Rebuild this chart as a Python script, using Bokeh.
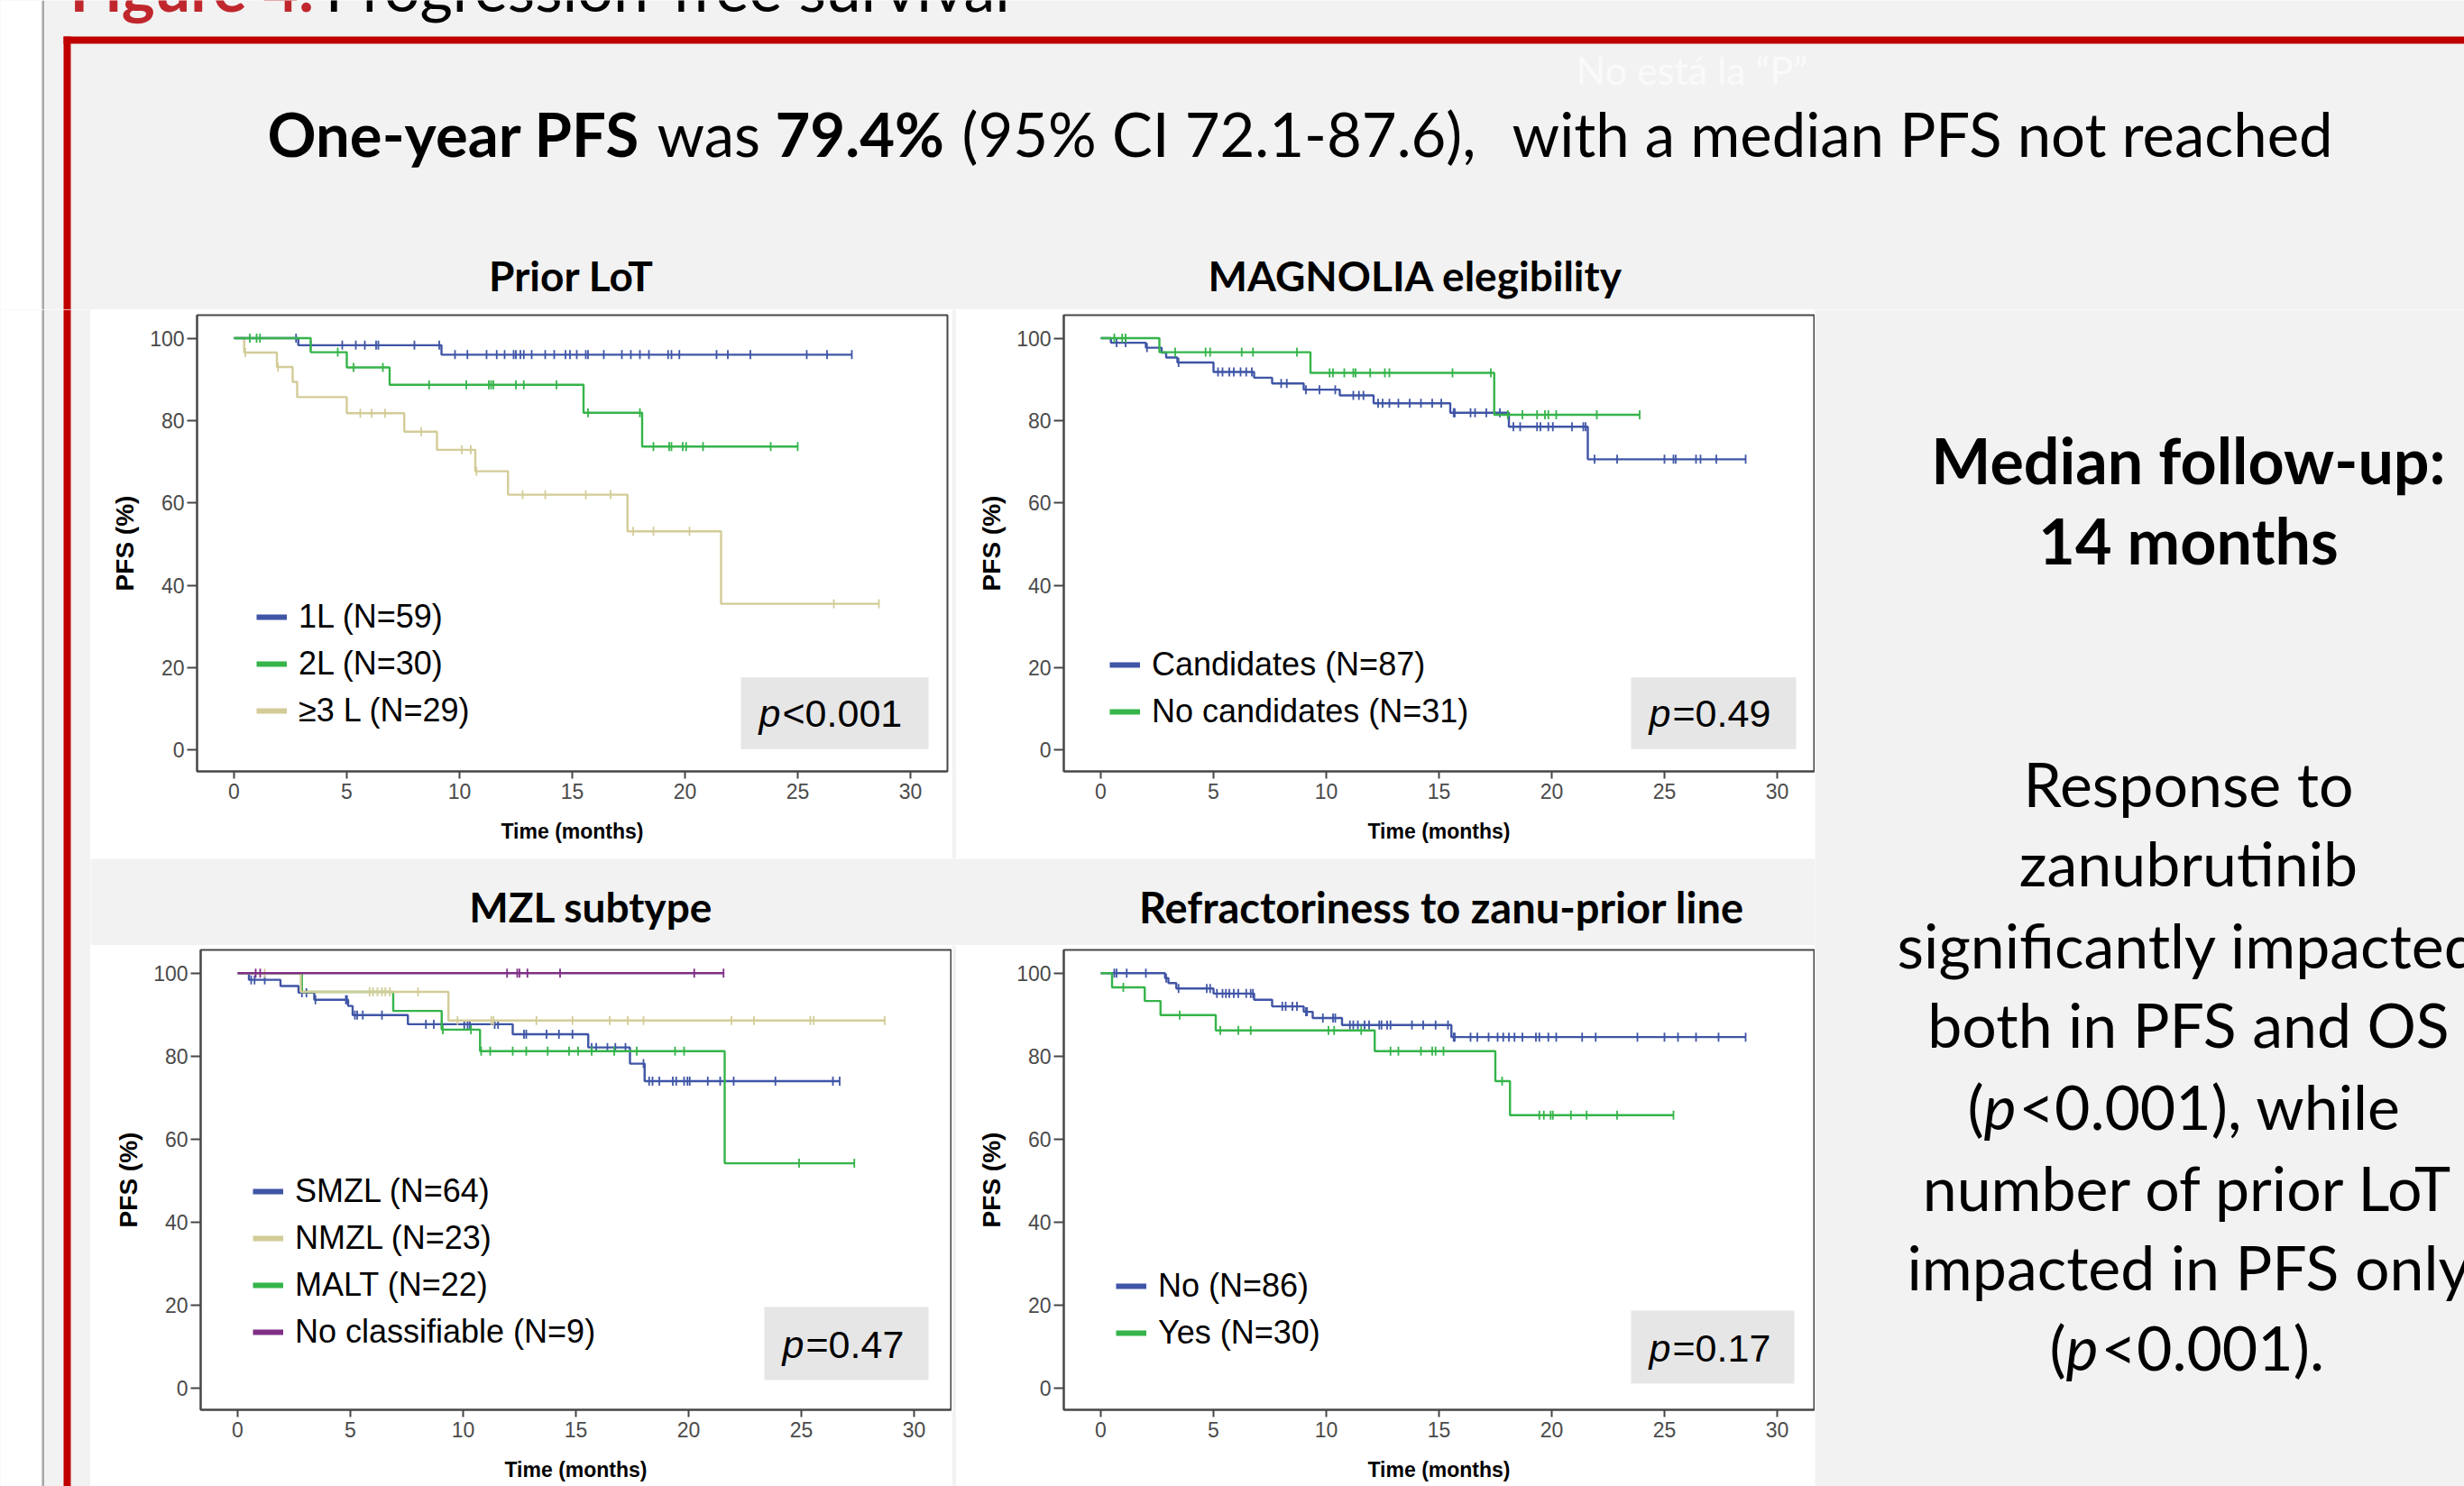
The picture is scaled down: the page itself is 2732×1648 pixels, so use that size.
import numpy as np
from bokeh.plotting import figure
from bokeh.layouts import row, column
from bokeh.models import Range1d, Label, BoxAnnotation, Legend, LegendItem, FixedTicker
from bokeh.core.properties import value
from bokeh.embed import file_html
from bokeh.resources import INLINE

# ======================= DATA =======================
X_TICKS = [0, 5, 10, 15, 20, 25, 30]
Y_TICKS = [0, 20, 40, 60, 80, 100]
X_LABEL = "Time (months)"
Y_LABEL = "PFS (%)"

FIG_TITLE = ["Figure 4.", "Progression-free survival"]
MAIN_TITLE = ["One-year PFS", "was", "79.4%", "(95% CI 72.1-87.6),", "with a median PFS not reached"]
MAIN_TITLE_BOLD = [True, False, True, False, False]
NOTE_TEXT = "No está la “P”"
PANEL_TITLES = ["Prior LoT", "MAGNOLIA elegibility", "MZL subtype", "Refractoriness to zanu-prior line"]
P_VALUES = [["p", "<0.001"], ["p", "=0.49"], ["p", "=0.47"], ["p", "=0.17"]]
RIGHT_BOLD = ["Median follow-up:", "14 months"]
RIGHT_LINES = ["Response to", "zanubrutinib", "significantly impacted", "both in PFS and OS",
               None, "number of prior LoT", "impacted in PFS only", None]
RIGHT_P_LINES = [["(", "p", "<0.001), while"], ["(", "p", "<0.001)."]]

# --- Prior LoT ---
LOT1_LABEL = "1L (N=59)"
LOT1_EVENT_T = [2.85, 9.2]
LOT1_EVENT_S = [98.3, 96.0]
LOT1_END = 27.4
LOT1_CENS = [2.75, 3.4, 4.8, 5.4, 5.8, 6.3, 6.4, 8.0, 9.1, 9.8, 10.35, 11.2, 11.65, 12.0, 12.4,
             12.5, 12.7, 12.85, 13.2, 13.8, 14.2, 14.7, 14.9, 15.2, 15.6, 15.7, 16.4, 17.2, 17.6,
             18.0, 18.4, 19.25, 19.4, 19.75, 21.4, 21.9, 22.9, 25.4, 26.3, 27.4]

LOT2_LABEL = "2L (N=30)"
LOT2_EVENT_T = [3.4, 5.0, 6.9, 15.5, 18.1]
LOT2_EVENT_S = [96.6, 92.9, 88.7, 81.9, 73.7]
LOT2_END = 25.0
LOT2_CENS = [0.7, 1.0, 1.15, 4.6, 5.3, 6.6, 8.65, 10.3, 11.3, 11.4, 11.5, 12.5, 12.85, 14.3,
             15.7, 18.0, 18.6, 19.3, 19.4, 19.9, 20.05, 20.8, 23.8, 25.0]

LOT3_LABEL = "≥3 L (N=29)"
LOT3_EVENT_T = [0.45, 1.9, 2.6, 2.8, 5.0, 7.55, 9.0, 10.7, 12.15, 17.45, 21.6]
LOT3_EVENT_S = [96.5, 93.0, 89.4, 85.7, 81.8, 77.3, 72.9, 67.7, 62.0, 53.1, 35.5]
LOT3_END = 28.6
LOT3_CENS = [0.5, 1.95, 5.6, 6.1, 6.7, 8.3, 10.1, 10.5, 10.75, 12.8, 13.8, 15.6, 16.7, 17.7,
             18.6, 20.2, 26.6, 28.6]

# --- MAGNOLIA elegibility ---
CAND_LABEL = "Candidates (N=87)"
CAND_EVENT_T = [0.45, 2.0, 2.7, 2.9, 3.4, 5.0, 6.8, 7.6, 9.0, 10.6, 12.1, 15.5, 18.1, 21.6]
CAND_EVENT_S = [98.9, 97.7, 96.5, 95.3, 94.1, 91.8, 90.4, 89.0, 87.5, 86.1, 84.2, 81.9, 78.5, 70.6]
CAND_END = 28.6
CAND_CENS = [0.7, 1.1, 2.05, 3.45, 5.2, 5.4, 5.7, 5.9, 6.2, 6.45, 6.7, 8.0, 8.25, 9.1, 9.7, 10.4,
             11.2, 11.45, 11.65, 12.3, 12.5, 12.8, 13.2, 13.7, 14.2, 14.7, 15.1, 15.65, 15.7,
             16.4, 16.6, 17.1, 17.7, 18.3, 18.6, 19.35, 19.5, 19.85, 20.05, 20.9, 21.4, 21.5,
             21.9, 22.9, 25.0, 25.4, 25.5, 26.4, 26.6, 27.3, 28.6]

NOCAND_LABEL = "No candidates (N=31)"
NOCAND_EVENT_T = [2.6, 9.3, 17.45]
NOCAND_EVENT_S = [96.6, 91.6, 81.4]
NOCAND_END = 23.9
NOCAND_CENS = [0.6, 0.95, 1.1, 3.3, 4.65, 4.85, 6.25, 6.75, 8.7, 10.15, 10.3, 10.8, 11.2, 11.3,
               11.95, 12.6, 12.8, 15.6, 17.3, 18.05, 18.7, 19.35, 19.7, 19.85, 20.2, 22.0, 23.9]

# --- MZL subtype ---
SMZL_LABEL = "SMZL (N=64)"
SMZL_EVENT_T = [0.5, 1.9, 2.7, 3.4, 4.9, 5.1, 7.55, 12.2, 15.55, 17.4, 18.05]
SMZL_EVENT_S = [98.4, 96.9, 95.3, 93.6, 92.1, 89.9, 87.7, 85.3, 82.1, 78.2, 74.0]
SMZL_END = 26.7
SMZL_CENS = [0.6, 0.75, 1.2, 2.85, 3.05, 3.45, 4.8, 4.85, 5.2, 5.3, 5.55, 6.4, 8.35, 8.7, 9.05,
             10.05, 10.2, 10.3, 11.4, 11.55, 12.7, 12.8, 13.7, 14.25, 14.85, 15.7, 15.9, 16.4,
             16.75, 17.2, 18.0, 18.25, 18.4, 18.7, 19.3, 19.45, 19.8, 19.95, 20.05, 20.85, 21.4,
             22.0, 23.85, 26.4, 26.7]

NMZL_LABEL = "NMZL (N=23)"
NMZL_EVENT_T = [2.8, 9.35]
NMZL_EVENT_S = [95.5, 88.6]
NMZL_END = 28.7
NMZL_CENS = [1.2, 5.85, 6.0, 6.2, 6.4, 6.55, 6.75, 8.0, 9.75, 11.25, 11.35, 13.25, 14.85, 16.5,
             17.3, 18.0, 21.9, 22.9, 25.4, 25.55, 28.7]

MALT_LABEL = "MALT (N=22)"
MALT_EVENT_T = [2.85, 6.9, 9.05, 10.75, 21.6]
MALT_EVENT_S = [95.5, 90.9, 86.4, 81.2, 54.2]
MALT_END = 27.35
MALT_CENS = [9.1, 10.35, 10.8, 11.2, 12.2, 12.8, 13.75, 14.7, 15.1, 15.7, 16.7, 17.7, 19.4,
             19.8, 24.9, 27.35]

NOCL_LABEL = "No classifiable (N=9)"
NOCL_EVENT_T = []
NOCL_EVENT_S = []
NOCL_END = 21.55
NOCL_CENS = [0.8, 1.0, 11.95, 12.4, 12.5, 12.85, 14.3, 20.25, 21.55]

# --- Refractoriness to zanu-prior line ---
REFNO_LABEL = "No (N=86)"
REFNO_EVENT_T = [2.85, 3.0, 3.35, 5.0, 6.8, 7.6, 9.0, 9.4, 10.7, 15.55]
REFNO_EVENT_S = [98.8, 97.6, 96.3, 95.1, 93.6, 92.0, 90.7, 89.2, 87.5, 84.6]
REFNO_END = 28.6
REFNO_CENS = [0.6, 0.7, 1.15, 2.0, 2.9, 3.45, 4.7, 4.85, 5.15, 5.4, 5.55, 5.7, 5.9, 6.1, 6.45,
              6.65, 6.75, 8.05, 8.2, 8.5, 8.7, 9.1, 9.15, 9.85, 10.3, 10.4, 11.05, 11.2, 11.4,
              11.7, 11.9, 12.35, 12.45, 12.7, 12.85, 13.8, 14.3, 14.85, 15.4, 15.65, 15.7, 16.4,
              16.7, 17.2, 17.6, 17.85, 18.1, 18.35, 18.7, 19.3, 19.45, 19.85, 20.2, 21.35, 21.95,
              23.8, 25.0, 25.6, 26.4, 27.4, 28.6]

REFYES_LABEL = "Yes (N=30)"
REFYES_EVENT_T = [0.5, 1.95, 2.65, 5.1, 12.15, 17.5, 18.15]
REFYES_EVENT_S = [96.6, 93.3, 89.9, 86.2, 81.2, 74.0, 65.8]
REFYES_END = 25.4
REFYES_CENS = [1.0, 3.5, 5.3, 6.1, 6.65, 10.1, 10.35, 11.55, 12.85, 13.2, 14.2, 14.7, 14.85,
               15.2, 17.8, 19.45, 19.65, 19.95, 20.05, 20.85, 21.55, 22.9, 25.4]

# ======================= STYLE =======================
BG = "#F2F2F2"
RED = "#C00000"
TITLE_RED = "#C0272D"
BLUE = "#3F55A6"
GREEN = "#35B44A"
TAN = "#D3CC98"
PURPLE = "#7E2F85"
AXC = "#474747"
SANS = "Lato"
ARIAL = "Liberation Sans"
K_BASE = 0.37   # baseline correction (fraction of font size)

XR = (-1.64, 31.64)
YR = (-5.2, 105.6)
FRAME_W, FRAME_H = 832, 510
PX_X = FRAME_W / (XR[1] - XR[0])
PX_Y = FRAME_H / (YR[1] - YR[0])


def km_steps(event_t, event_s, end):
    xs = [0.0] + list(event_t) + [end]
    ys = [100.0] + list(event_s) + [event_s[-1] if len(event_s) else 100.0]
    return xs, ys


def km_level(event_t, event_s, times):
    idx = np.searchsorted(np.asarray(event_t, dtype=float), np.asarray(times, dtype=float), side="right")
    lev = np.concatenate([[100.0], np.asarray(event_s, dtype=float)])
    return lev[idx]


def plain_fig(w, h, xr, yr):
    f = figure(width=w, height=h, x_range=Range1d(*xr), y_range=Range1d(*yr),
               output_backend="svg", toolbar_location=None, min_border=0)
    f.axis.visible = False
    f.grid.visible = False
    f.outline_line_color = None
    f.background_fill_color = BG
    f.border_fill_color = BG
    return f


def txt(f, x, base_y, text, size, style="normal", color="black", align="left", font=SANS):
    # figures below use a y axis that grows downward (page pixels)
    f.text(x=[x], y=[base_y - K_BASE * size], text=[text], text_font=value(font),
           text_font_style=style, text_font_size=f"{size}px", text_color=color,
           text_baseline="alphabetic", text_align=align)


def km_panel(series, legend_order, pval, size, legend_loc, pbox):
    w, h, bl, br, bt, bb = size
    p = figure(width=w, height=h, x_range=Range1d(*XR), y_range=Range1d(*YR),
               output_backend="svg", toolbar_location=None,
               min_border_left=bl, min_border_right=br, min_border_top=bt, min_border_bottom=bb)
    p.background_fill_color = "white"
    p.border_fill_color = "white"
    p.outline_line_color = AXC
    p.outline_line_width = 2
    p.grid.visible = False

    p.xaxis.ticker = FixedTicker(ticks=X_TICKS)
    p.yaxis.ticker = FixedTicker(ticks=Y_TICKS)
    for ax in (p.xaxis[0], p.yaxis[0]):
        ax.axis_line_color = AXC
        ax.axis_line_width = 2
        ax.major_tick_line_color = AXC
        ax.major_tick_line_width = 2
        ax.major_tick_in = 0
        ax.minor_tick_line_color = None
        ax.major_label_text_font = ARIAL
        ax.major_label_text_font_size = "23px"
        ax.major_label_text_color = "#4A4A4A"
        ax.axis_label_text_font_style = "bold"
        ax.axis_label_text_color = "black"
        ax.axis_label_text_font = ARIAL
    p.xaxis.major_tick_out = 8
    p.yaxis.major_tick_out = 11
    p.xaxis.major_label_standoff = 5
    p.yaxis.major_label_standoff = 3
    p.xaxis.axis_label = X_LABEL
    p.xaxis.axis_label_text_font_size = "23px"
    p.xaxis.axis_label_standoff = 20
    p.yaxis.axis_label = Y_LABEL
    p.yaxis.axis_label_text_font_size = "28px"
    p.yaxis.axis_label_standoff = 9

    dummies = {}
    for s in series:
        xs, ys = km_steps(s["t"], s["s"], s["end"])
        p.step(xs, ys, mode="after", line_color=s["color"], line_width=2.4)
        cy = km_level(s["t"], s["s"], s["c"])
        p.scatter(s["c"], cy, marker="dash", angle=np.pi / 2, size=10,
                  line_color=s["color"], line_width=1.8)
        dummies[s["label"]] = p.line(np.array([np.nan]), np.array([np.nan]),
                                     line_color=s["color"], line_width=6)

    items = [LegendItem(label=lab, renderers=[dummies[lab]]) for lab in legend_order]
    leg = Legend(items=items, location=legend_loc, orientation="vertical",
                 background_fill_alpha=0, border_line_alpha=0, padding=0, margin=0,
                 spacing=0, glyph_width=34, glyph_height=52, label_height=52,
                 label_standoff=13, label_text_font=ARIAL,
                 label_text_font_size="36px", label_text_color="black")
    p.add_layout(leg)

    r_in, b_in, bw, bh = pbox
    right = XR[1] - r_in / PX_X
    left = right - bw / PX_X
    bottom = YR[0] + b_in / PX_Y
    top = bottom + bh / PX_Y
    p.add_layout(BoxAnnotation(left=left, right=right, bottom=bottom, top=top,
                               fill_color="#E6E6E6", fill_alpha=1.0, line_color=None))
    yoff = 24 + K_BASE * 43
    p.add_layout(Label(x=left, y=bottom, x_offset=20, y_offset=yoff, text=pval[0],
                       text_font=ARIAL, text_font_style="italic",
                       text_font_size="43px", text_color="black", text_baseline="alphabetic"))
    p.add_layout(Label(x=left, y=bottom, x_offset=46, y_offset=yoff, text=pval[1],
                       text_font=ARIAL, text_font_size="43px", text_color="black",
                       text_baseline="alphabetic"))
    return p


def ser(label, color, t, s, end, c):
    return dict(label=label, color=color, t=t, s=s, end=end, c=c)


lot1 = ser(LOT1_LABEL, BLUE, LOT1_EVENT_T, LOT1_EVENT_S, LOT1_END, LOT1_CENS)
lot2 = ser(LOT2_LABEL, GREEN, LOT2_EVENT_T, LOT2_EVENT_S, LOT2_END, LOT2_CENS)
lot3 = ser(LOT3_LABEL, TAN, LOT3_EVENT_T, LOT3_EVENT_S, LOT3_END, LOT3_CENS)
cand = ser(CAND_LABEL, BLUE, CAND_EVENT_T, CAND_EVENT_S, CAND_END, CAND_CENS)
nocand = ser(NOCAND_LABEL, GREEN, NOCAND_EVENT_T, NOCAND_EVENT_S, NOCAND_END, NOCAND_CENS)
smzl = ser(SMZL_LABEL, BLUE, SMZL_EVENT_T, SMZL_EVENT_S, SMZL_END, SMZL_CENS)
nmzl = ser(NMZL_LABEL, TAN, NMZL_EVENT_T, NMZL_EVENT_S, NMZL_END, NMZL_CENS)
malt = ser(MALT_LABEL, GREEN, MALT_EVENT_T, MALT_EVENT_S, MALT_END, MALT_CENS)
nocl = ser(NOCL_LABEL, PURPLE, NOCL_EVENT_T, NOCL_EVENT_S, NOCL_END, NOCL_CENS)
refno = ser(REFNO_LABEL, BLUE, REFNO_EVENT_T, REFNO_EVENT_S, REFNO_END, REFNO_CENS)
refyes = ser(REFYES_LABEL, GREEN, REFYES_EVENT_T, REFYES_EVENT_S, REFYES_END, REFYES_CENS)

p1 = km_panel([lot3, lot1, lot2], [LOT1_LABEL, LOT2_LABEL, LOT3_LABEL], P_VALUES[0],
              (955, 609, 118, 5, 2, 97), (66, 41), (21, 25, 208, 80))
p2 = km_panel([cand, nocand], [CAND_LABEL, NOCAND_LABEL], P_VALUES[1],
              (952, 609, 119, 1, 6, 93), (51, 40), (20, 25, 183, 80))
p3 = km_panel([smzl, malt, nmzl, nocl], [SMZL_LABEL, NMZL_LABEL, MALT_LABEL, NOCL_LABEL], P_VALUES[2],
              (955, 600, 122, 1, 5, 85), (58, 60), (25, 33, 182, 81))
p4 = km_panel([refno, refyes], [REFNO_LABEL, REFYES_LABEL], P_VALUES[3],
              (952, 600, 119, 1, 5, 85), (58, 59), (22, 29, 181, 81))

# ======================= HEADER (page pixels, y downward) =======================
hdr = plain_fig(2732, 343, (0, 2732), (343, 0))
hdr.quad(left=[0], right=[46], top=[0], bottom=[343], fill_color="white", line_color=None)
hdr.quad(left=[46], right=[48.5], top=[0], bottom=[343], fill_color="#A8A8A8", line_color=None)
hdr.quad(left=[70], right=[2732], top=[40], bottom=[48], fill_color=RED, line_color=None)
hdr.quad(left=[70], right=[78], top=[40], bottom=[343], fill_color=RED, line_color=None)

txt(hdr, 77, 11, FIG_TITLE[0], 70, style="bold", color=TITLE_RED)
txt(hdr, 360, 11, FIG_TITLE[1], 70)

title_x = [296, 728, 859, 1066, 1676]
for seg, bold, xx in zip(MAIN_TITLE, MAIN_TITLE_BOLD, title_x):
    txt(hdr, xx, 172, seg, 67, style="bold" if bold else "normal")

txt(hdr, 1747, 93, NOTE_TEXT, 43, color="#FAFAFA")
txt(hdr, 633, 322, PANEL_TITLES[0], 46, style="bold", align="center")
txt(hdr, 1569, 322, PANEL_TITLES[1], 46, style="bold", align="center")

# ======================= LEFT STRIP =======================
strip = plain_fig(100, 1305, (0, 100), (1648, 343))
strip.quad(left=[0], right=[46], top=[343], bottom=[1648], fill_color="white", line_color=None)
strip.quad(left=[46], right=[48.5], top=[343], bottom=[1648], fill_color="#A8A8A8", line_color=None)
strip.quad(left=[70], right=[78], top=[343], bottom=[1648], fill_color=RED, line_color=None)

# ======================= BAND between rows =======================
band = plain_fig(1912, 96, (100, 2012), (1048, 952))
txt(band, 655, 1022.5, PANEL_TITLES[2], 46, style="bold", align="center")
txt(band, 1598, 1022.5, PANEL_TITLES[3], 47, style="bold", align="center")

gap1 = plain_fig(5, 609, (0, 1), (0, 1))
gap2 = plain_fig(5, 600, (0, 1), (0, 1))

# ======================= RIGHT TEXT =======================
rt = plain_fig(720, 1305, (2012, 2732), (1648, 343))
txt(rt, 2426, 535, RIGHT_BOLD[0], 70, style="bold", align="center")
txt(rt, 2426, 624, RIGHT_BOLD[1], 70, style="bold", align="center")
base_y = [893.6, 980.7, 1072, 1160, 1250.7, 1341, 1429, 1518.6]
for t, yy in zip(RIGHT_LINES, base_y):
    if t is not None:
        txt(rt, 2426, yy, t, 68, align="center")
p_line_y = [1250.7, 1518.6]
p_line_x = [[2181, 2199, 2238], [2272, 2290, 2329]]
for segs, yy, xs in zip(RIGHT_P_LINES, p_line_y, p_line_x):
    for k, (seg, xx) in enumerate(zip(segs, xs)):
        txt(rt, xx, yy, seg, 68, style="italic" if k == 1 else "normal")

# ======================= LAYOUT =======================
middle = column(row(p1, gap1, p2), band, row(p3, gap2, p4))
layout = column(hdr, row(strip, middle, rt))

open("out.html", "w").write(file_html(layout, INLINE))
